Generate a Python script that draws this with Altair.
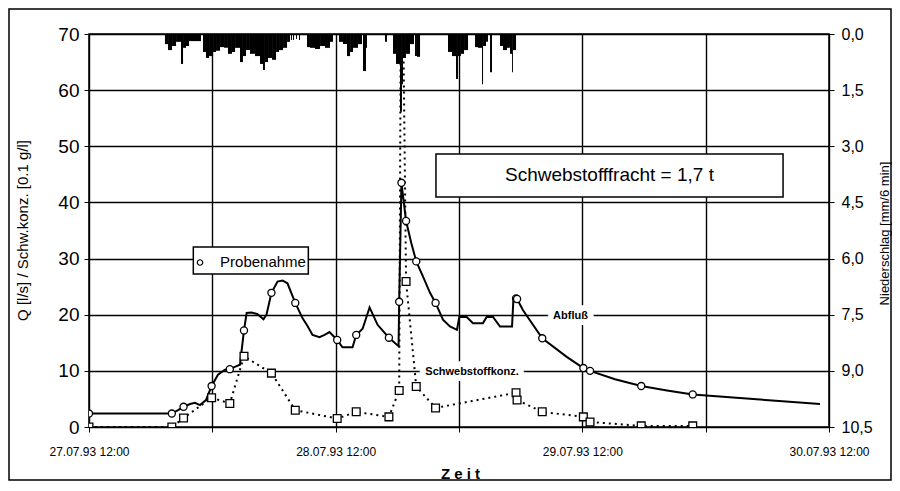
import json
import altair as alt
import pandas as pd

FONT = "Liberation Sans"

# ---------------- data ----------------
# time axis: hours since 27.07.93 12:00
day_labels = ["27.07.93 12:00", "28.07.93 12:00", "29.07.93 12:00", "30.07.93 12:00"]

# discharge Q [l/s] (solid line)
q_t = [0.00, 8.06, 8.66, 9.20, 9.83, 10.31, 10.80, 11.38, 11.93, 12.55, 13.23, 13.70, 14.30, 14.69,
       15.08, 15.34, 15.82, 16.40, 16.98, 17.27, 17.75, 18.34, 18.83, 19.31, 19.70, 20.07, 20.77,
       21.26, 21.75, 22.43, 22.92, 23.40, 24.15, 24.66, 25.64, 26.00, 26.62, 27.30, 28.08, 29.18,
       30.12, 30.18, 30.40, 30.85, 31.35, 31.84, 32.50, 33.18, 33.72, 34.44, 35.12, 35.80, 36.03,
       36.75, 37.36, 38.33, 38.69, 39.31, 39.99, 41.16, 41.29, 41.55, 41.65, 42.23, 44.10, 46.48,
       48.10, 48.75, 51.18, 53.73, 56.24, 58.74, 65.28, 71.12]
q_v = [2.4, 2.4, 3.0, 3.6, 4.1, 4.3, 3.9, 4.8, 7.3, 9.3, 10.2, 10.3, 10.8, 11.1,
       17.2, 20.3, 20.4, 20.1, 19.2, 20.0, 23.9, 25.9, 26.1, 25.6, 23.8, 22.1, 19.4,
       18.0, 16.4, 16.0, 16.4, 16.9, 15.5, 14.2, 14.2, 16.4, 17.5, 21.3, 18.2, 15.9,
       14.4, 22.3, 43.5, 36.7, 32.8, 29.5, 26.8, 23.9, 22.1, 19.1, 17.9, 17.3, 19.6,
       19.6, 18.5, 18.5, 19.6, 19.6, 17.9, 17.9, 22.6, 22.9, 22.8, 20.8, 15.8, 12.5,
       10.5, 10.0, 8.5, 7.3, 6.5, 5.8, 4.9, 4.1]

# sampling (Probenahme): times, discharge at sample, suspended sediment conc. [0.1 g/l]
s_t = [0.00, 8.06, 9.20, 11.93, 13.70, 15.08, 17.75, 20.07, 24.15, 26.00, 29.18, 30.18,
       30.40, 30.85, 31.84, 33.72, 41.55, 41.65, 44.10, 48.10, 48.75, 53.73, 58.74]
s_q = [2.4, 2.4, 3.6, 7.3, 10.3, 17.2, 23.9, 22.1, 15.5, 16.4, 15.9, 22.3,
       43.5, 36.7, 29.5, 22.1, 22.9, 22.8, 15.8, 10.5, 10.0, 7.3, 5.8]
s_c = [0.0, 0.0, 1.6, 5.2, 4.2, 12.6, 9.6, 3.0, 1.5, 2.7, 1.8, 6.5,
       100.0, 25.9, 7.2, 3.4, 6.1, 4.8, 2.7, 1.8, 0.9, 0.2, 0.2]

# rainfall [mm/6 min]: interval start, interval end, amount
r_t0 = [7.39, 7.69, 8.08, 8.47, 8.95, 9.15, 9.44, 9.73, 10.02, 11.09, 11.38, 11.68, 12.07, 12.36,
        12.75, 13.14, 13.52, 13.91, 14.21, 14.69, 14.98, 15.28, 15.66, 16.15, 16.64, 16.93, 17.12,
        17.42, 17.81, 18.20, 18.49, 18.88, 19.27, 19.65, 19.85, 20.14, 20.43, 21.21, 21.50, 21.99,
        22.48, 22.96, 23.45, 24.32, 24.71, 25.10, 25.40, 25.69, 26.17, 26.66, 26.95, 28.80, 29.58,
        29.87, 30.26, 30.45, 30.55, 30.84, 31.23, 31.72, 31.91, 34.93, 35.32, 35.71, 35.90, 36.19,
        36.49, 37.56, 37.85, 38.24, 38.34, 38.63, 39.02, 39.99, 40.28, 40.67, 40.96, 41.16, 41.25]
r_t1 = [7.69, 8.08, 8.47, 8.95, 9.15, 9.44, 9.73, 10.02, 10.90, 11.38, 11.68, 12.07, 12.36, 12.75,
        13.14, 13.52, 13.91, 14.21, 14.69, 14.98, 15.28, 15.66, 16.15, 16.64, 16.93, 17.12, 17.42,
        17.81, 18.20, 18.49, 18.88, 19.27, 19.56, 19.75, 19.95, 20.24, 20.53, 21.50, 21.99, 22.48,
        22.96, 23.45, 23.74, 24.71, 25.10, 25.40, 25.69, 26.17, 26.56, 26.95, 27.05, 28.99, 29.87,
        30.26, 30.45, 30.55, 30.84, 31.23, 31.62, 31.91, 32.21, 35.32, 35.71, 35.90, 36.19, 36.49,
        36.88, 37.85, 38.24, 38.34, 38.63, 38.82, 39.21, 40.28, 40.67, 40.96, 41.16, 41.25, 41.55]
r_v = [0.27, 0.43, 0.32, 0.21, 0.80, 0.37, 0.32, 0.19, 0.19, 0.48, 0.64, 0.59, 0.48, 0.45,
       0.35, 0.37, 0.53, 0.48, 0.37, 0.75, 0.59, 0.43, 0.53, 0.59, 0.80, 0.96, 0.75,
       0.64, 0.69, 0.48, 0.43, 0.37, 0.21, 0.16, 0.16, 0.13, 0.16, 0.35, 0.37, 0.40,
       0.32, 0.37, 0.21, 0.21, 0.27, 0.59, 0.48, 0.37, 0.27, 0.99, 0.37, 0.21, 0.53,
       0.80, 2.08, 1.34, 0.64, 0.53, 0.27, 0.59, 0.61, 0.48, 0.59, 1.20, 0.59, 0.53,
       0.43, 0.35, 0.37, 1.34, 0.32, 0.21, 1.02, 0.32, 0.43, 0.37, 0.53, 1.02, 0.43]

# annotation boxes (data coordinates)
box_t0 = [10.15, 33.76]
box_t1 = [21.34, 67.53]
box_v0 = [27.25, 40.97]
box_v1 = [32.06, 48.63]

# labels
lbl_text = ["Abfluß", "Schwebstoffkonz."]
lbl_t = [46.85, 37.27]
lbl_v = [19.8, 9.8]

legend_text = ["Probenahme"]
legend_t = [12.75]
legend_v = [29.45]
legend_mark_t = [10.8]
legend_mark_v = [29.3]

fracht_text = ["Schwebstofffracht = 1,7 t"]
fracht_t = [50.64]
fracht_v = [44.8]

# ---------------- frames ----------------
q_df = pd.DataFrame({"t": q_t, "q": q_v})
s_df = pd.DataFrame({"t": s_t, "q": s_q, "c": s_c})
r_df = pd.DataFrame({"t0": r_t0, "t1": r_t1, "v": r_v})
box_df = pd.DataFrame({"t0": box_t0, "t1": box_t1, "v0": box_v0, "v1": box_v1})
lbl_df = pd.DataFrame({"t": lbl_t, "v": lbl_v, "txt": lbl_text})
leg_df = pd.DataFrame({"t": legend_t, "v": legend_v, "txt": legend_text,
                       "mt": legend_mark_t, "mv": legend_mark_v})
fr_df = pd.DataFrame({"t": fracht_t, "v": fracht_v, "txt": fracht_text})

# ---------------- scales / axes ----------------
x_scale = alt.Scale(domain=[0, 72], nice=False, zero=False)
y_scale = alt.Scale(domain=[0, 70], nice=False, zero=True)
r_scale = alt.Scale(domain=[0, 10.5], nice=False, reverse=True)

x_expr = "datum.value % 24 == 0 ? " + json.dumps(day_labels) + "[datum.value / 24] : ''"
x_axis = alt.Axis(values=list(range(0, 73, 12)), labelExpr=x_expr, grid=True,
                  gridColor="black", gridWidth=1.4, tickSize=5, tickColor="black",
                  labelFontSize=12, labelPadding=14, labelFlush=False, labelOverlap=False,
                  labelBound=False, domain=False,
                  title="Z e i t", titleFontSize=15, titleFontWeight="bold",
                  titleX=371, titleY=46, titleAlign="center", titleBaseline="middle")
y_axis = alt.Axis(values=list(range(0, 71, 10)), grid=True, gridColor="black", gridWidth=1.4,
                  tickSize=5, tickColor="black", labelFontSize=19, labelPadding=5,
                  domain=False,
                  title="Q [l/s] / Schw.konz. [0.1 g/l]", titleFontSize=15,
                  titleFontWeight="normal", titleAngle=270, titleX=-67, titleY=196,
                  titleAlign="center", titleBaseline="middle")
r_axis = alt.Axis(orient="right", values=[0, 1.5, 3, 4.5, 6, 7.5, 9, 10.5],
                  labelExpr="replace(format(datum.value, '.1f'), '.', ',')",
                  grid=False, tickSize=5, tickColor="black", labelFontSize=16,
                  labelPadding=7, domain=False,
                  title="Niederschlag  [mm/6 min]", titleFontSize=13,
                  titleFontWeight="normal", titleAngle=270, titleX=55, titleY=199,
                  titleAlign="center", titleBaseline="middle")

X = lambda f: alt.X(f, type="quantitative", scale=x_scale, axis=x_axis)
Y = lambda f: alt.Y(f, type="quantitative", scale=y_scale, axis=y_axis)

# ---------------- layers ----------------
q_line = alt.Chart(q_df).mark_line(color="black", strokeWidth=2, clip=True).encode(
    x=X("t"), y=Y("q"))

c_line = alt.Chart(s_df).mark_line(color="black", strokeWidth=2, strokeDash=[2, 4],
                                   clip=True).encode(x=X("t"), y=Y("c"))

c_pts = alt.Chart(s_df).mark_point(shape="square", filled=True, fill="white", stroke="black",
                                   strokeWidth=1.3, size=60, opacity=1, clip=True).encode(
    x=X("t"), y=Y("c"))

q_pts = alt.Chart(s_df).mark_point(shape="circle", filled=True, fill="white", stroke="black",
                                   strokeWidth=1.3, size=50, opacity=1, clip=True).encode(
    x=X("t"), y=Y("q"))

boxes = alt.Chart(box_df).mark_rect(fill="white", stroke="black", strokeWidth=1.5).encode(
    x=X("t0"), x2="t1", y=Y("v0"), y2="v1")

lbl_halo = alt.Chart(lbl_df).mark_text(font=FONT, fontSize=11, fontWeight="bold",
                                       stroke="white", strokeWidth=12, strokeJoin="round",
                                       color="white").encode(x=X("t"), y=Y("v"), text="txt")
lbl = alt.Chart(lbl_df).mark_text(font=FONT, fontSize=11, fontWeight="bold",
                                  color="black").encode(x=X("t"), y=Y("v"), text="txt")

leg_txt = alt.Chart(leg_df).mark_text(font=FONT, fontSize=15, align="left",
                                      baseline="middle", color="black").encode(
    x=X("t"), y=Y("v"), text="txt")
leg_mark = alt.Chart(leg_df).mark_point(shape="circle", filled=True, fill="white",
                                        stroke="black", strokeWidth=1.2, size=30,
                                        opacity=1).encode(x=X("mt"), y=Y("mv"))

fr_txt = alt.Chart(fr_df).mark_text(font=FONT, fontSize=19, align="center",
                                    baseline="middle", color="black").encode(
    x=X("t"), y=Y("v"), text="txt")

frame = alt.Chart(fr_df).mark_rect(fillOpacity=0, stroke="black", strokeWidth=1.5).encode(
    x=alt.value(-80), x2=alt.value(802), y=alt.value(-25), y2=alt.value(446))

left = alt.layer(q_line, c_line, c_pts, q_pts, boxes, lbl_halo, lbl, leg_txt, leg_mark,
                 fr_txt, frame)

rain = alt.Chart(r_df).mark_rect(color="black").encode(
    x=X("t0"), x2="t1",
    y=alt.Y("v:Q", scale=r_scale, axis=r_axis),
    y2=alt.datum(0))

chart = alt.layer(left, rain).resolve_scale(y="independent").properties(
    width=740, height=393,
    padding={"left": 81, "top": 26, "right": 63, "bottom": 54},
    autosize=alt.AutoSizeParams(type="none"),
    background="white",
).configure_axis(
    labelFont=FONT, titleFont=FONT, labelColor="black", titleColor="black",
    gridOpacity=1,
).configure_view(stroke="black", strokeWidth=1.5)

chart.save("out.html", embed_options={"renderer": "svg", "actions": False})
